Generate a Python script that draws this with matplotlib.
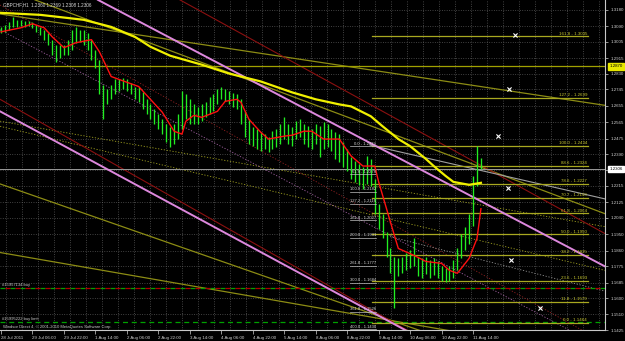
import matplotlib
matplotlib.use("Agg")
import matplotlib.pyplot as plt
import numpy as np

# ---------------- data ----------------
bar_hours_step = 2
highs = [1.3087, 1.3098, 1.3115, 1.3142, 1.3126, 1.3126, 1.3120, 1.3120, 1.3115, 1.3098,
         1.3087, 1.3071, 1.3055, 1.3017, 1.2989, 1.2989, 1.2989, 1.3017, 1.3071, 1.3087,
         1.3071, 1.3071, 1.3055, 1.3017, 1.2962, 1.2908, 1.2771, 1.2744, 1.2771, 1.2799,
         1.2799, 1.2809, 1.2799, 1.2782, 1.2755, 1.2755, 1.2728, 1.2690, 1.2662, 1.2635,
         1.2608, 1.2581, 1.2553, 1.2537, 1.2553, 1.2608, 1.2733, 1.2717, 1.2690, 1.2662,
         1.2646, 1.2662, 1.2673, 1.2700, 1.2717, 1.2744, 1.2755, 1.2744, 1.2733, 1.2722,
         1.2717, 1.2690, 1.2624, 1.2581, 1.2537, 1.2526, 1.2510, 1.2499, 1.2482, 1.2515,
         1.2526, 1.2553, 1.2591, 1.2553, 1.2537, 1.2570, 1.2581, 1.2553, 1.2542, 1.2526,
         1.2553, 1.2542, 1.2564, 1.2553, 1.2526, 1.2510, 1.2499, 1.2455, 1.2417, 1.2373,
         1.2352, 1.2335, 1.2319, 1.2379, 1.2363, 1.2254, 1.2117, 1.2063, 1.1965, 1.1872,
         1.1828, 1.1818, 1.1828, 1.1845, 1.1861, 1.1927, 1.1828, 1.1818, 1.1828, 1.1807,
         1.1818, 1.1801, 1.1774, 1.1763, 1.1774, 1.1807, 1.1872, 1.1954, 1.1992, 1.2063,
         1.2270, 1.2434, 1.2369]
lows = [1.3055, 1.3060, 1.3071, 1.3087, 1.3087, 1.3093, 1.3087, 1.3093, 1.3082, 1.3060,
        1.3044, 1.3017, 1.2989, 1.2935, 1.2897, 1.2918, 1.2935, 1.2935, 1.2962, 1.3000,
        1.3006, 1.2989, 1.2962, 1.2908, 1.2864, 1.2717, 1.2581, 1.2662, 1.2690, 1.2717,
        1.2733, 1.2744, 1.2733, 1.2717, 1.2690, 1.2673, 1.2635, 1.2608, 1.2581, 1.2553,
        1.2526, 1.2499, 1.2455, 1.2428, 1.2444, 1.2472, 1.2526, 1.2581, 1.2553, 1.2553,
        1.2553, 1.2570, 1.2591, 1.2608, 1.2624, 1.2662, 1.2690, 1.2679, 1.2662, 1.2646,
        1.2635, 1.2553, 1.2482, 1.2444, 1.2433, 1.2417, 1.2406, 1.2417, 1.2401, 1.2417,
        1.2428, 1.2444, 1.2472, 1.2444, 1.2433, 1.2472, 1.2482, 1.2444, 1.2428, 1.2417,
        1.2444, 1.2373, 1.2417, 1.2428, 1.2406, 1.2363, 1.2346, 1.2319, 1.2297, 1.2254,
        1.2237, 1.2221, 1.2199, 1.2226, 1.2215, 1.2063, 1.1981, 1.1927, 1.1828, 1.1736,
        1.1545, 1.1719, 1.1736, 1.1752, 1.1763, 1.1774, 1.1719, 1.1709, 1.1730, 1.1709,
        1.1725, 1.1709, 1.1692, 1.1687, 1.1692, 1.1709, 1.1752, 1.1818, 1.1861, 1.1899,
        1.1997, 1.2215, 1.2306]

# red moving average (bar index, price)
red_ma_idx = [0, 5, 8, 11, 13, 16, 19, 23, 25, 28, 30, 35, 41, 44, 46, 47, 49, 51, 55, 57,
              60, 61, 63, 66, 68, 72, 74, 77, 79, 82, 86, 89, 92, 95, 96, 98, 100, 101, 105,
              108, 112, 114, 116, 117, 119, 121, 122]
red_ma_val = [1.3060, 1.3082, 1.3104, 1.3082, 1.3033, 1.2973, 1.3000, 1.3017, 1.2951, 1.2815,
              1.2799, 1.2760, 1.2619, 1.2515, 1.2499, 1.2570, 1.2602, 1.2591, 1.2624, 1.2679,
              1.2690, 1.2673, 1.2581, 1.2510, 1.2472, 1.2488, 1.2493, 1.2515, 1.2515, 1.2472,
              1.2472, 1.2379, 1.2324, 1.2324, 1.2237, 1.2090, 1.1943, 1.1872, 1.1834, 1.1801,
              1.1790, 1.1752, 1.1736, 1.1763, 1.1818, 1.1927, 1.2090]

# yellow moving average
yel_ma_idx = [0, 10, 21, 28, 34, 38, 43, 51, 58, 66, 74, 80, 86, 89, 94, 97, 101, 104, 108,
              110, 113, 115, 119, 122]
yel_ma_val = [1.3164, 1.3153, 1.3126, 1.3087, 1.3033, 1.2978, 1.2929, 1.2880, 1.2831, 1.2788,
              1.2728, 1.2690, 1.2662, 1.2651, 1.2597, 1.2542, 1.2472, 1.2433, 1.2363, 1.2324,
              1.2270, 1.2237, 1.2221, 1.2232]

# trend lines: (hour, price) -> (hour, price)
pink_lines = [((49.3, 1.3235), (307.0, 1.1774)), ((-0.5, 1.2624), (213.0, 1.1381))]
darkred_lines = [((-0.5, 1.2690), (223.2, 1.1322)), ((91.0, 1.3235), (307.0, 1.1954))]
olive_lines = [((17.3, 1.3235), (307.0, 1.2063)), ((-0.5, 1.3158), (307.0, 1.2657)),
               ((-0.5, 1.2226), (218.1, 1.1403)), ((-0.5, 1.1850), (307.0, 1.1273))]
gray_lines = [((187.6, 1.2439), (307.0, 1.2144))]
# dotted channel mid lines
olive_dotted = [((-0.5, 1.2542), (307.0, 1.1752)), ((-0.5, 1.2570), (307.0, 1.1992))]
pink_dotted = [((-0.5, 1.3071), (307.0, 1.1322))]
red_dotted = [((-0.5, 1.3207), (307.0, 1.1354))]
gray_dotted = [((197.8, 1.1937), (307.0, 1.1638))]

# Fibonacci retracement (right)
fib_r_levels = ["0.0", "11.8", "23.6", "38.2", "50.0", "61.8", "70.7", "78.6", "88.6",
                "100.0", "127.2", "161.8"]
fib_r_prices = [1.1464, 1.1579, 1.1693, 1.1835, 1.1950, 1.2064, 1.2150, 1.2227, 1.2324,
                1.2434, 1.2699, 1.3035]
# Fibonacci expansion (left)
fib_l_levels = ["0.0", "61.8", "100.0", "127.2", "161.8", "200.0", "261.8", "300.0",
                "361.8", "400.0"]
fib_l_prices = [1.2433, 1.2278, 1.2182, 1.2116, 1.2027, 1.1931, 1.1777, 1.1684, 1.1526,
                1.1430]

cross_hours = [261.3, 258.3, 252.7, 257.8, 259.3, 274.0]
cross_prices = [1.3044, 1.2744, 1.2488, 1.2205, 1.1807, 1.1545]

level_line_price = 1.2870
bid_price = 1.2306
order_buy_price = 1.1654
order_limit_price = 1.1469

price_ticks = [1.3180, 1.3090, 1.3005, 1.2915, 1.2830, 1.2745, 1.2655, 1.2565, 1.2475,
               1.2390, 1.2300, 1.2215, 1.2125, 1.2040, 1.1950, 1.1860, 1.1775, 1.1685,
               1.1600, 1.1510, 1.1425]
time_labels = ["28 Jul 2011", "29 Jul 06:00", "29 Jul 22:00", "1 Aug 14:00", "2 Aug 06:00",
               "2 Aug 22:00", "3 Aug 14:00", "4 Aug 06:00", "4 Aug 22:00", "5 Aug 14:00",
               "8 Aug 06:00", "8 Aug 22:00", "9 Aug 14:00", "10 Aug 06:00", "10 Aug 22:00",
               "11 Aug 14:00"]
time_label_hours = [16 * k for k in range(len(time_labels))]

# ---------------- figure ----------------
FONT = "Liberation Sans"
plt.rcParams["font.family"] = [FONT, "DejaVu Sans"]
fig = plt.figure(figsize=(6.25, 3.41), dpi=100, facecolor="black")
ax = fig.add_axes([0, 11 / 341, 605 / 625, 330 / 341])
ax.set_facecolor("black")
pxh = 1.967
ax.set_xlim(-1 / pxh, 604 / pxh)
ax.set_ylim(1.1436, 1.32345)

# grid
for gx in np.arange(5 / pxh, 604 / pxh, 16.03 / pxh):
    ax.axvline(gx, color="#6a6a6a", lw=0.5, ls=(0, (1.2, 2.2)), zorder=0)
for gy in price_ticks:
    ax.axhline(gy, color="#6a6a6a", lw=0.5, ls=(0, (1.2, 2.2)), zorder=0)

def seg(a, b, **kw):
    ax.plot([a[0], b[0]], [a[1], b[1]], **kw)

# dotted channel lines
for (a, b) in olive_dotted:
    seg(a, b, color="#a0a020", lw=0.6, ls=(0, (1.5, 2)), zorder=1)
for (a, b) in pink_dotted:
    seg(a, b, color="#a060a0", lw=0.6, ls=(0, (1.5, 2)), zorder=1)
for (a, b) in red_dotted:
    seg(a, b, color="#902020", lw=0.6, ls=(0, (1.5, 2)), zorder=1)
for (a, b) in gray_dotted:
    seg(a, b, color="#909090", lw=0.6, ls=(0, (1.5, 2)), zorder=1)

# trend lines
for (a, b) in olive_lines:
    seg(a, b, color="#8c8c14", lw=0.9, zorder=2)
for (a, b) in darkred_lines:
    seg(a, b, color="#8b1010", lw=0.8, zorder=2)
for (a, b) in gray_lines:
    seg(a, b, color="#a0a0a0", lw=0.8, zorder=2)
for (a, b) in pink_lines:
    seg(a, b, color="#dd88dd", lw=1.4, zorder=3)

# horizontal lines
ax.axhline(level_line_price, color="#a0a000", lw=0.9, zorder=2)
ax.axhline(bid_price, color="#9a9a9a", lw=0.7, zorder=2)
ax.axhline(order_buy_price, color="#00a000", lw=0.9, ls=(0, (4, 4)), zorder=2)
ax.axhline(order_buy_price, color="#b00000", lw=0.9, ls=(4, (4, 4)), zorder=2)
ax.axhline(order_limit_price, color="#00a000", lw=0.9, ls=(0, (4, 3)), zorder=2)

# fib retracement lines (right)
x0 = (372 - 1) / pxh
x1 = (588 - 1) / pxh
for lvl, p in zip(fib_r_levels, fib_r_prices):
    ax.plot([x0, x1], [p, p], color="#a8a820", lw=0.9, zorder=2)
    ax.text(x1 - 0.5, p + 0.0004, f"{lvl} - {p:.4f}", color="#c8c830", fontsize=3.2,
            ha="right", va="bottom", zorder=6)
# fib expansion labels (left)
xl0 = (350 - 1) / pxh
xl1 = (376 - 1) / pxh
for lvl, p in zip(fib_l_levels, fib_l_prices):
    ax.plot([xl0, xl1], [p, p], color="#c0c0c0", lw=0.5, zorder=5)
    ax.text(xl1, p + 0.0003, f"{lvl} - {p:.4f}", color="#d8d8d8", fontsize=3.0,
            ha="right", va="bottom", zorder=6)

# price bars
hours = bar_hours_step * np.arange(len(highs))
ax.vlines(hours, lows, highs, color="#22ee22", lw=0.95, zorder=4)

# moving averages
ax.plot(bar_hours_step * np.array(yel_ma_idx), yel_ma_val, color="#f0f000", lw=1.6, zorder=4)
ax.plot(bar_hours_step * np.array(red_ma_idx), red_ma_val, color="#ff1010", lw=1.0, zorder=5)

# crosses
ax.scatter(cross_hours, cross_prices, marker="x", s=9, color="white", lw=0.8, zorder=6)

# axes styling
for s in ["left", "top"]:
    ax.spines[s].set_visible(False)
for s in ["right", "bottom"]:
    ax.spines[s].set_color("#c8c8c8")
    ax.spines[s].set_linewidth(0.8)
ax.yaxis.tick_right()
ax.set_yticks(price_ticks)
ax.set_yticklabels(["" if abs(t - bid_price) < 0.002 else f"{t:.4f}" for t in price_ticks])
ax.tick_params(axis="y", colors="#d0d0d0", labelsize=3.2, length=2, width=0.5, pad=2)
ax.set_xticks(time_label_hours)
ax.set_xticklabels(time_labels)
for lab in ax.get_xticklabels():
    lab.set_horizontalalignment("left")
ax.tick_params(axis="x", colors="#d0d0d0", labelsize=3.2, length=3, width=0.5, pad=1.5)

# price boxes
ax.annotate(f"{bid_price:.4f}", xy=(1.0, bid_price), xycoords=("axes fraction", "data"),
            xytext=(3, 0), textcoords="offset points", fontsize=3.2, color="black",
            va="center", ha="left",
            bbox=dict(boxstyle="square,pad=0.25", fc="white", ec="white"), zorder=10,
            annotation_clip=False)
ax.annotate(f"{level_line_price:.4f}", xy=(1.0, level_line_price),
            xycoords=("axes fraction", "data"), xytext=(3, 0), textcoords="offset points",
            fontsize=3.2, color="black", va="center", ha="left",
            bbox=dict(boxstyle="square,pad=0.25", fc="#e8e800", ec="#e8e800"), zorder=10,
            annotation_clip=False)

# texts
fig.text(3 / 625, 1 - 5 / 341, "GBPCHF,H1  1.2360 1.2369 1.2308 1.2306", color="#d8d8d8",
         fontsize=3.3, va="center", ha="left")
ax.text(0.5, order_buy_price + 0.0005, "#15957134 buy", color="#c8c8c8", fontsize=3.0,
        va="bottom", ha="left")
ax.text(0.5, order_limit_price + 0.0005, "#15995222 buy limit", color="#c8c8c8",
        fontsize=3.0, va="bottom", ha="left")
fig.text(3 / 625, 1 - 327 / 341, "Windsor Direct 4, \u00a9 2001-2010 MetaQuotes Software Corp.",
         color="#c8c8c8", fontsize=3.0, va="center", ha="left")

fig.savefig("out.png", dpi=100, facecolor="black")
